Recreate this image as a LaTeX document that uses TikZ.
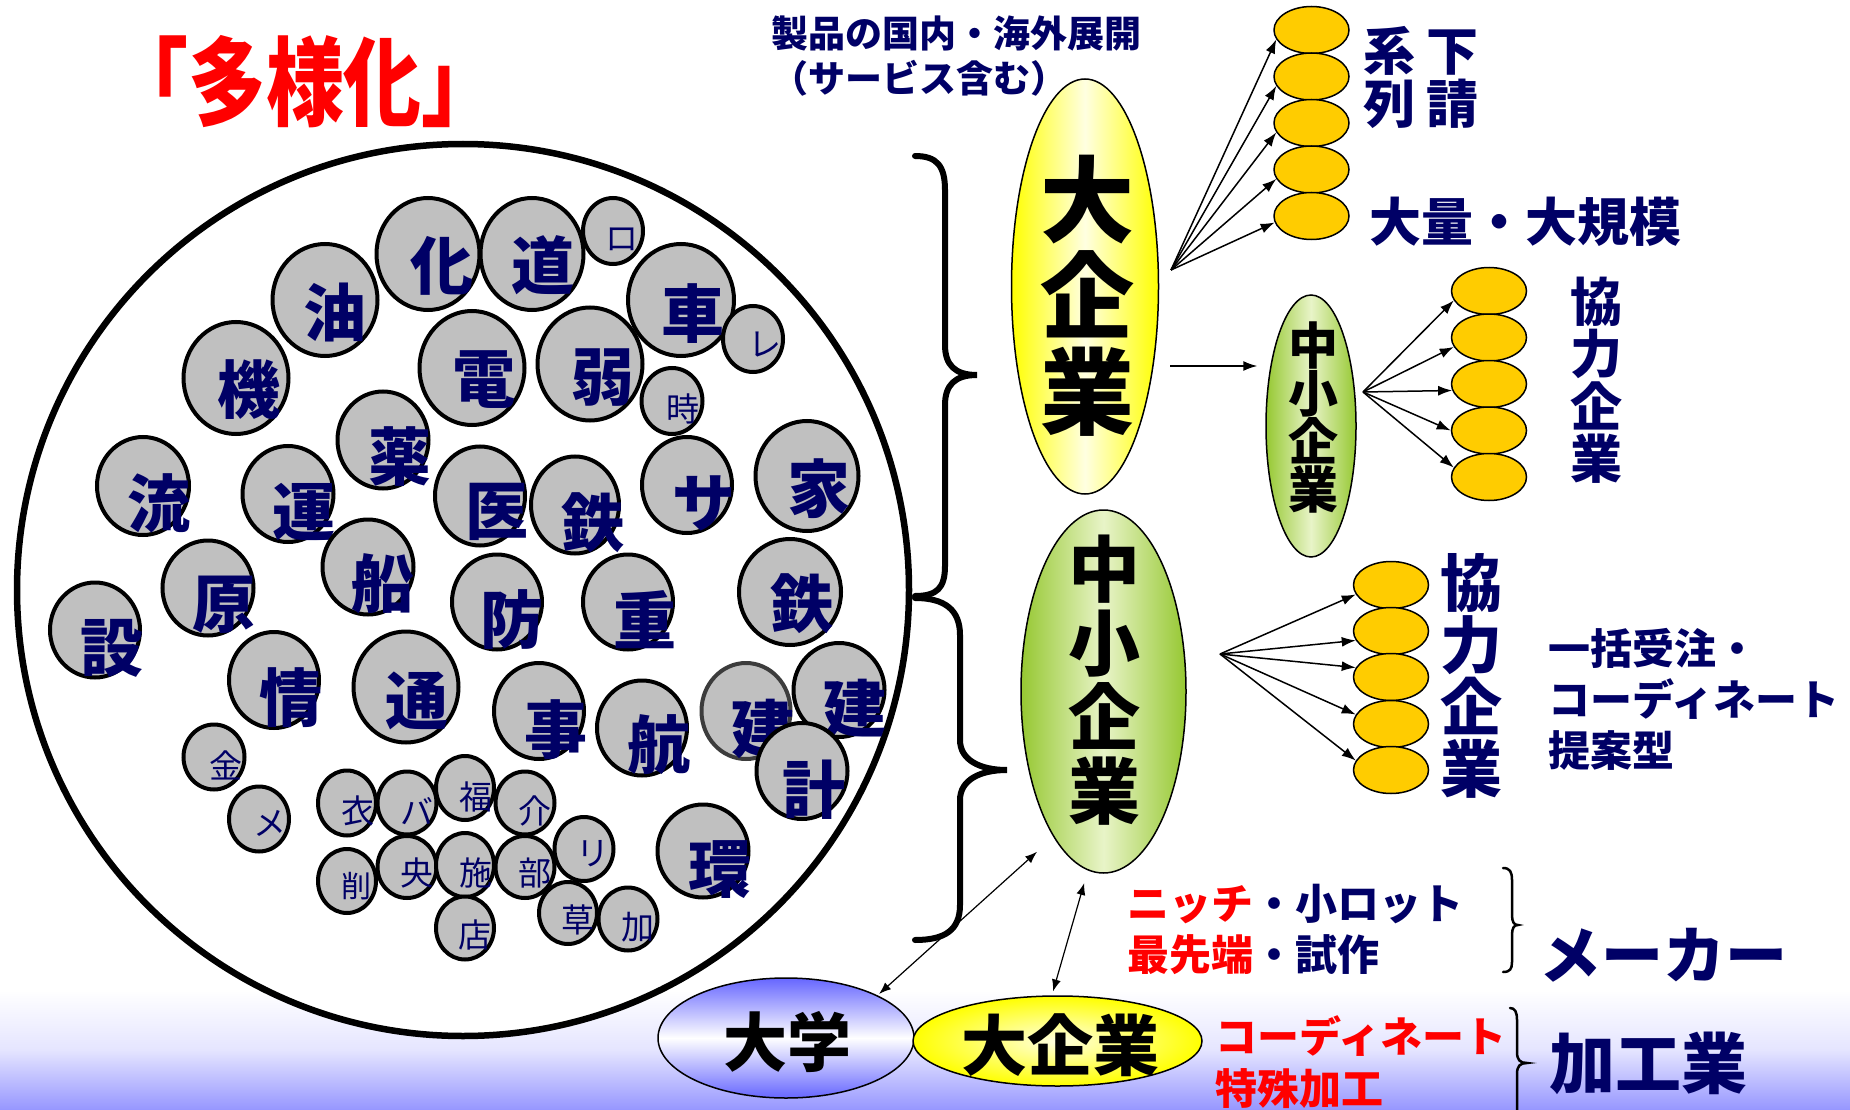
\documentclass[tikz,border=0pt]{standalone}
\usepackage{fontspec}
\setmainfont{Noto Sans CJK JP}
\usetikzlibrary{arrows.meta,shapes.geometric}
\definecolor{mynavy}{RGB}{0,0,102}
\definecolor{myred}{RGB}{255,0,0}
\definecolor{gfill}{RGB}{192,192,192}
\definecolor{ygold}{RGB}{255,204,0}
\definecolor{ygreen}{RGB}{150,200,50}
\definecolor{ygpale}{RGB}{232,244,200}
\definecolor{ypale}{RGB}{255,255,225}
\definecolor{bblue}{RGB}{102,102,255}
\definecolor{lav}{RGB}{150,150,255}
\definecolor{dgray}{RGB}{60,60,60}
\newcommand\fsz[2]{\fontsize{#1pt}{#2pt}\selectfont}
\newcommand\gcirc[8]{%
  \node[gc,#4] (#1) at (#2,#3) {};
  \node[#7] (#1t) at (#5,#6) {#8};}
\tikzset{
  gc/.style={ellipse, draw=black, line width=4pt, fill=gfill, inner sep=0pt},
  sz/.style 2 args={minimum width=#1pt, minimum height=#2pt},
  tL/.style={text=mynavy, font=\bfseries\fsz{63}{63}, inner sep=0pt},
  tS/.style={text=mynavy, font=\fsz{33}{33}, inner sep=0pt},
  tSS/.style={text=mynavy, font=\fsz{30}{30}, inner sep=0pt},
  ycirc/.style={ellipse, draw=black, line width=1.5pt, fill=ygold, inner sep=0pt, minimum width=75pt, minimum height=47pt},
  arr/.style={line width=1.5pt, -{Latex[length=14pt,width=10pt]}},
  darr/.style={line width=1.2pt, {Latex[length=12pt,width=9pt]}-{Latex[length=12pt,width=9pt]}},
  lab/.style={text=mynavy, inner sep=0pt},
  blk/.style={text=black, inner sep=0pt, align=center},
  bigbrace/.style={line width=6pt, line cap=round},
  smbrace/.style={line width=2.5pt, line cap=round},
  ell/.style={ellipse, draw=black, line width=1.5pt, inner sep=0pt}
}
\begin{document}
\begin{tikzpicture}[x=1pt,y=-1pt]
\useasboundingbox (0,0) rectangle (1850,1110);
\fill[white] (0,0) rectangle (1850,1110);
\shade[top color=white, bottom color=lav, middle color=lav!25] (0,990) rectangle (1850,1110);

% big circle
\node[circle, draw=black, line width=6.5pt, fill=white, minimum size=892pt, inner sep=0pt] (bigc) at (463,590) {};

% gray circles
\gcirc{ka}{428}{254}{sz={103}{112}}{442}{266}{tL}{化}
\gcirc{dou}{532}{254}{sz={103}{112}}{543}{265}{tL}{道}
\gcirc{ro}{613}{231}{sz={60}{66}}{622}{239}{tS}{ロ}
\gcirc{yu}{325}{300}{sz={105}{112}}{335}{312}{tL}{油}
\gcirc{sha}{681}{300}{sz={106}{112}}{693}{314}{tL}{車}
\gcirc{re}{753}{339}{sz={60}{66}}{765}{345}{tS}{レ}
\gcirc{ki}{236}{378}{sz={105}{112}}{249}{390}{tL}{機}
\gcirc{den}{472}{368}{sz={105}{114}}{484}{380}{tL}{電}
\gcirc{jaku}{590}{364}{sz={105}{113}}{603}{378}{tL}{弱}
\gcirc{toki}{672}{401}{sz={61}{66}}{683}{409}{tS}{時}
\gcirc{yaku}{383}{440}{sz={91}{97}}{400}{457}{tL}{薬}
\gcirc{ryu}{143}{486}{sz={92}{98}}{159}{503}{tL}{流}
\gcirc{un}{288}{494}{sz={91}{96}}{304}{512}{tL}{運}
\gcirc{iy}{480}{496}{sz={90}{99}}{497}{512}{tL}{医}
\gcirc{tetsuA}{575}{505}{sz={88}{97}}{593}{523}{tL}{鉄}
\gcirc{sa}{687}{485}{sz={90}{96}}{704}{503}{tL}{サ}
\gcirc{ie}{807}{476}{sz={103}{110}}{819}{489}{tL}{家}
\gcirc{setsu}{95}{630}{sz={90}{95}}{112}{648}{tL}{設}
\gcirc{gen}{208}{588}{sz={91}{95}}{224}{605}{tL}{原}
\gcirc{sen}{368}{567}{sz={91}{95}}{383}{584}{tL}{船}
\gcirc{bou}{497}{602}{sz={90}{95}}{512}{620}{tL}{防}
\gcirc{juu}{628}{602}{sz={90}{95}}{645}{620}{tL}{重}
\gcirc{tetsuB}{790}{592}{sz={102}{106}}{802}{604}{tL}{鉄}
\gcirc{jou}{274}{680}{sz={90}{96}}{291}{698}{tL}{情}
\gcirc{tsu}{406}{687}{sz={105}{111}}{417}{701}{tL}{通}
\gcirc{ji}{539}{711}{sz={90}{96}}{556}{730}{tL}{事}
\gcirc{kou}{642}{728}{sz={90}{95}}{659}{745}{tL}{航}
\gcirc{kenA}{746}{711}{sz={89}{96},draw=dgray}{763}{729}{tL}{建}
\gcirc{kenB}{839}{690}{sz={91}{94}}{855}{709}{tL}{建}
\gcirc{kei}{802}{771}{sz={91}{96}}{814}{790}{tL}{計}
\gcirc{kan}{703}{851}{sz={91}{93}}{720}{870}{tL}{環}
\gcirc{kin}{214}{757}{sz={61}{65}}{226}{765}{tS}{金}
\gcirc{me}{259}{819}{sz={60}{65}}{270}{823}{tS}{メ}
\gcirc{koromo}{347}{803}{sz={58}{65}}{358}{811}{tS}{衣}
\gcirc{ba}{407}{803}{sz={59}{63}}{417}{811}{tS}{バ}
\gcirc{fuku}{465}{788}{sz={58}{64}}{476}{797}{tS}{福}
\gcirc{kai}{525}{803}{sz={59}{63}}{535}{811}{tS}{介}
\gcirc{saku}{347}{881}{sz={58}{64}}{356}{886}{tSS}{削}
\gcirc{ou}{407}{867}{sz={59}{62}}{417}{873}{tS}{央}
\gcirc{shi}{465}{865}{sz={58}{64}}{476}{873}{tS}{施}
\gcirc{bu}{525}{867}{sz={59}{62}}{535}{873}{tS}{部}
\gcirc{ri}{584}{849}{sz={59}{64}}{593}{854}{tS}{リ}
\gcirc{ten}{465}{928}{sz={58}{63}}{475}{935}{tS}{店}
\gcirc{sou}{568}{913}{sz={58}{62}}{578}{920}{tS}{草}
\gcirc{kaB}{628}{919}{sz={59}{63}}{638}{927}{tS}{加}

% title
\node[text=myred, inner sep=0pt, font=\bfseries\fsz{82}{82}] (title) at (305,82) {\scalebox{0.95}[1.18]{「多様化」}};

% braces
\draw[bigbrace] (915,156) .. controls (937,156) and (945,166) .. (945,190) -- (945,345) .. controls (945,365) and (955,375) .. (977,375) .. controls (955,375) and (945,385) .. (945,405) -- (945,566) .. controls (945,588) and (937,596) .. (915,596);
\draw[bigbrace] (915,598) .. controls (945,598) and (960,610) .. (960,635) -- (960,740) .. controls (960,760) and (980,770) .. (1007,770) .. controls (980,770) and (960,780) .. (960,800) -- (960,905) .. controls (960,930) and (945,940) .. (915,940);
\draw[smbrace] (1503,868) .. controls (1510,868) and (1512,872) .. (1512,880) -- (1512,915) .. controls (1512,922) and (1514,925) .. (1518,925) .. controls (1514,925) and (1512,928) .. (1512,935) -- (1512,962) .. controls (1512,969) and (1510,972) .. (1503,972);
\draw[smbrace] (1510,1008) .. controls (1515,1008) and (1517,1012) .. (1517,1020) -- (1517,1052) .. controls (1517,1060) and (1520,1063) .. (1527,1063) .. controls (1520,1063) and (1517,1066) .. (1517,1074) -- (1517,1115);

% ellipses
\node[ell, minimum width=147pt, minimum height=415pt, left color=yellow, right color=yellow, middle color=ypale] (bigY) at (1085,286.5) {};
\node[blk, font=\bfseries\fsz{94}{96}] (tBigY) at (1087,296) {大\\企\\業};
\node[ell, minimum width=90pt, minimum height=262pt, left color=ygreen, right color=ygreen, middle color=ygpale] (smeS) at (1311,426) {};
\node[blk, font=\bfseries\fsz{50}{48}] (tSmeS) at (1313,417) {中\\小\\企\\業};
\node[ell, minimum width=165pt, minimum height=363pt, left color=ygreen, right color=ygreen, middle color=ygpale] (smeB) at (1103.5,691.5) {};
\node[blk, font=\bfseries\fsz{72}{74}] (tSmeB) at (1104,680) {中\\小\\企\\業};
\node[ell, minimum width=256pt, minimum height=120pt, top color=bblue, bottom color=bblue, middle color=white] (daigaku) at (786,1038) {};
\node[blk, font=\bfseries\fsz{64}{64}] (tDaigaku) at (787,1042) {大学};
\node[ell, minimum width=289pt, minimum height=90pt, inner color=ypale, outer color=yellow] (daikig) at (1057.5,1041) {};
\node[blk, font=\bfseries\fsz{66}{66}] (tDaikig) at (1060,1045) {大企業};

% yellow circle stacks
\foreach \i/\yy in {1/30,2/76.5,3/123,4/169.5,5/216} \node[ycirc] (ya\i) at (1311.5,\yy) {};
\foreach \i/\yy in {1/291,2/337.5,3/384,4/430.5,5/477} \node[ycirc] (yb\i) at (1489,\yy) {};
\foreach \i/\yy in {1/585,2/631,3/677,4/724,5/770} \node[ycirc] (yd\i) at (1391,\yy) {};

% arrows
\coordinate (srcA) at (1171,270);
\coordinate (srcB) at (1363,392);
\coordinate (srcC) at (1220,654);
\coordinate (srcH) at (1170,366);
\foreach \i/\a in {1/195,2/195,3/195,4/195,5/190} \draw[arr] (srcA) -- (ya\i.\a);
\foreach \i/\a in {1/195,2/195,3/190,4/180,5/165} \draw[arr] (srcB) -- (yb\i.\a);
\foreach \i/\a in {1/195,2/195,3/165,4/165,5/165} \draw[arr] (srcC) -- (yd\i.\a);
\draw[arr, shorten >=8pt] (srcH) -- (smeS.west |- srcH);
\draw[darr, shorten <=22pt, shorten >=2pt] (smeB.251) -- (daigaku.25);
\draw[darr, shorten <=13pt, shorten >=4pt] (smeB.265) -- (daikig.97);

% labels
\node[lab, font=\bfseries\fsz{37}{45}, align=left, anchor=north west] (tSeihin) at (771,16) {製品の国内・海外展開\\（サービス含む）};
\node[lab, font=\bfseries\fsz{52}{53}, align=center] (tKeiretsu) at (1421,77) {系\hspace{12pt}下\\列\hspace{12pt}請};
\node[lab, font=\bfseries\fsz{52}{52}] (tTairyo) at (1525,222) {大量・大規模};
\node[lab, font=\bfseries\fsz{52}{52.5}, align=center] (tKyo1) at (1596,380) {協\\力\\企\\業};
\node[lab, font=\bfseries\fsz{62}{62}, align=center] (tKyo2) at (1471,676) {協\\力\\企\\業};
\node[lab, font=\bfseries\fsz{42}{51}, align=left, anchor=north west] (tIkkatsu) at (1548,628) {一括受注・\\コーディネート\\提案型};
\node[lab, font=\bfseries\fsz{42}{51}, align=left, anchor=north west] (tNiche) at (1127,884) {\textcolor{myred}{ニッチ}・小ロット\\\textcolor{myred}{最先端}・試作};
\node[lab, font=\bfseries\fsz{62}{62}] (tMaker) at (1663,955) {メーカー};
\node[text=myred, inner sep=0pt, font=\bfseries\fsz{42}{52}, align=left, anchor=north west] (tCoord) at (1215,1015) {コーディネート\\特殊加工};
\node[lab, font=\bfseries\fsz{66}{66}] (tKakou) at (1648,1063) {加工業};
\end{tikzpicture}
\end{document}
